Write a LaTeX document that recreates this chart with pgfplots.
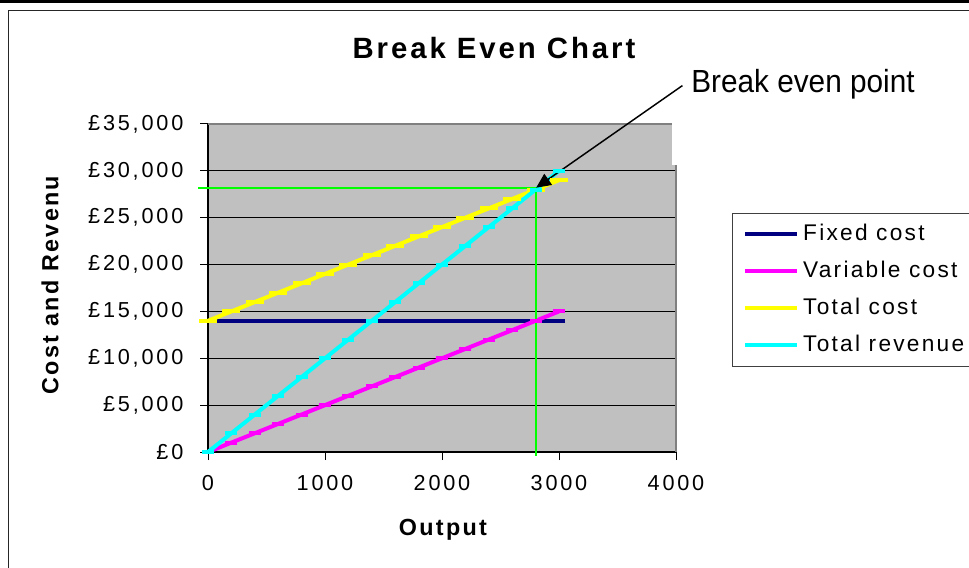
\documentclass[border=0pt]{standalone}
\usepackage{fontspec}
\setmainfont{Liberation Sans}[LetterSpace=10]
\newfontfamily\tickfont{Liberation Sans}[LetterSpace=13]
\newfontfamily\plainfont{Liberation Sans}
\usepackage{pgfplots}
\usepackage{pgfplotstable}
\pgfplotsset{compat=1.18}
\usetikzlibrary{arrows.meta}

\definecolor{xlnavy}{RGB}{0,0,128}
\definecolor{xlmag}{RGB}{255,0,255}
\definecolor{xlyel}{RGB}{255,255,0}
\definecolor{xlcyan}{RGB}{0,255,255}
\definecolor{xlgreen}{RGB}{0,255,0}
\definecolor{xlgray}{RGB}{192,192,192}
\definecolor{xlborder}{RGB}{128,128,128}

% output, fixed cost, variable cost (5 per unit), total cost, revenue (10 per unit)
\pgfplotstableread{
x    fixed variable total revenue
0    14000 0     14000 0
200  14000 1000  15000 2000
400  14000 2000  16000 4000
600  14000 3000  17000 6000
800  14000 4000  18000 8000
1000 14000 5000  19000 10000
1200 14000 6000  20000 12000
1400 14000 7000  21000 14000
1600 14000 8000  22000 16000
1800 14000 9000  23000 18000
2000 14000 10000 24000 20000
2200 14000 11000 25000 22000
2400 14000 12000 26000 24000
2600 14000 13000 27000 26000
2800 14000 14000 28000 28000
3000 14000 15000 29000 30000
}\breakeven

\begin{document}
\begin{tikzpicture}
\useasboundingbox (0,0) rectangle (726.75pt,425.25pt);
\clip (0,0) rectangle (726.75pt,425.25pt);
% chart frame
\fill[black] (0,423pt) rectangle (726.75pt,425.25pt);
\draw[line width=1.2pt, black!85] (6.4pt,-2pt) -- (6.4pt,417.4pt) -- (740pt,417.4pt);

\begin{axis}[
  at={(156pt,86.25pt)}, anchor=south west,
  scale only axis, width=351pt, height=246pt,
  xmin=0, xmax=4000, ymin=0, ymax=35000,
  scaled x ticks=false, scaled y ticks=false,
  axis background/.style={fill=xlgray},
  axis x line*=bottom, axis y line*=left,
  axis line style={black, line width=1.4pt},
  ymajorgrids, grid style={black, line width=0.75pt},
  xtick={0,1000,2000,3000,4000},
  xticklabels={0,1000,2000,3000,4000},
  ytick={0,5000,10000,15000,20000,25000,30000,35000},
  yticklabels={{£0},{£5,000},{£10,000},{£15,000},{£20,000},{£25,000},{£30,000},{£35,000}},
  tick align=outside, major tick length=6pt,
  tick style={black, line width=0.75pt},
  /pgf/number format/assume math mode=true,
  every tick label/.append style={font=\tickfont\fontsize{16.25}{19}\selectfont},
  yticklabel style={inner sep=0pt, xshift=-12.25pt},
  xticklabel style={inner sep=0pt, yshift=-11.5pt},
  xlabel={Output},
  xlabel style={at={(axis description cs:0.502,-0.238)}, anchor=center,
    font=\bfseries\fontsize{17.5}{21}\selectfont},
  ylabel={Cost and Revenu},
  ylabel style={at={(axis description cs:-0.3376,0.509)}, anchor=center,
    font=\bfseries\fontsize{17.5}{21}\selectfont},
  clip=false,
  legend cell align=left,
  legend image code/.code={\draw[#1] (0pt,0pt) -- (39pt,0pt);},
  legend style={at={(axis description cs:1.1197,0.7287)}, anchor=north west,
    draw=black!75, line width=0.75pt, fill=white,
    inner xsep=8pt, inner ysep=8.5pt,
    font=\fontsize{17}{20}\selectfont,
    nodes={inner sep=0pt, text height=12pt, text depth=2.5pt},
    row sep=13.25pt, column sep=3pt},
]
% plot area border
\draw[xlborder, line width=1.5pt] (axis cs:0,35000) -- (axis cs:4000,35000) -- (axis cs:4000,0);

\addplot[xlnavy, line width=3pt, mark=-, mark size=4.5pt, mark options={line width=3pt}]
  table[x=x, y=fixed] {\breakeven};
\addlegendentry{Fixed cost}
\addplot[xlmag, line width=3pt, mark=-, mark size=4.5pt, mark options={line width=3pt}]
  table[x=x, y=variable] {\breakeven};
\addlegendentry{Variable cost}
\addplot[xlyel, line width=3pt, mark=-, mark size=6.75pt, mark options={line width=3pt}]
  table[x=x, y=total] {\breakeven};
\addlegendentry{Total cost}
\addplot[xlcyan, line width=3pt, mark=-, mark size=4.5pt, mark options={line width=3pt}]
  table[x=x, y=revenue] {\breakeven};
\addlegendentry{Total revenue}

% break even guide lines
\addplot[xlgreen, line width=1.5pt, forget plot]
  coordinates {(-85,28200) (2805,28200) (2805,-400)};

% text box covering the corner of the plot area
\fill[white] (axis cs:3966,35640) rectangle (axis cs:4300,30625);

\draw[black, line width=1.1pt, -{Triangle[length=11pt,width=10pt]}]
  (axis cs:4055,39100) -- (axis cs:2805,28200);
\end{axis}

\node[font=\bfseries\fontsize{22}{26}\selectfont] at (370.5pt,389.25pt) {Break Even Chart};
\node at (602.25pt,362.25pt) {\scalebox{0.93}[1]{\plainfont\fontsize{24}{29}\selectfont Break even point}};
\end{tikzpicture}
\end{document}
